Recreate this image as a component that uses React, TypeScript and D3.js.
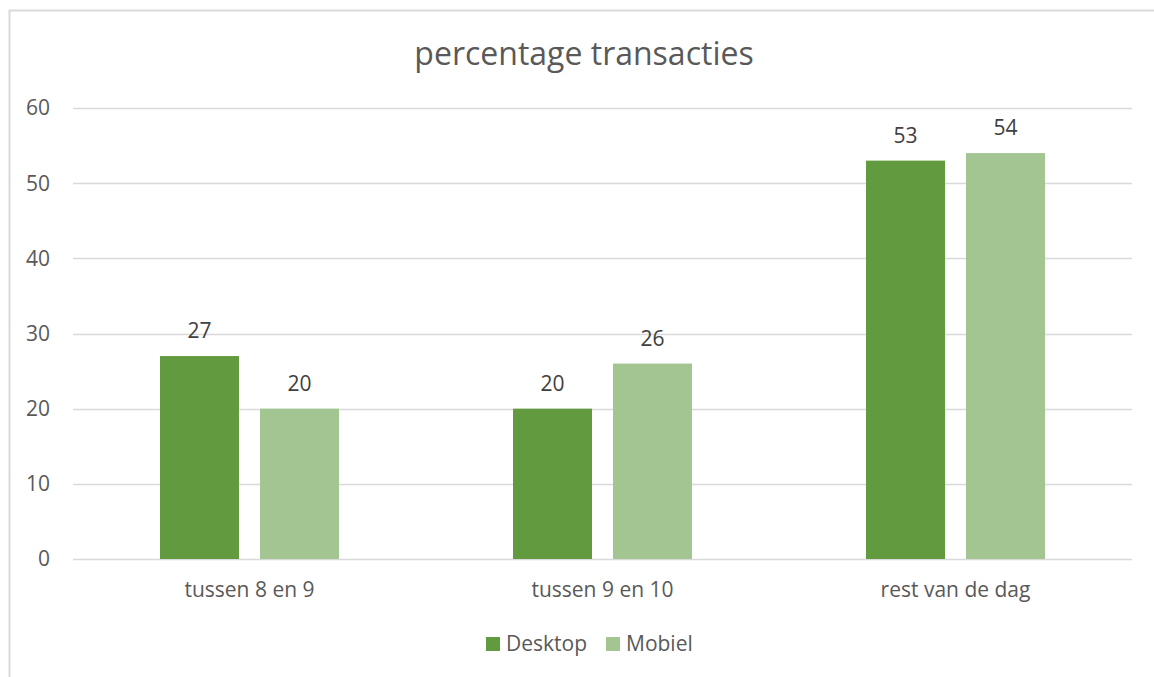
import { useEffect, useRef } from 'react';
import * as d3 from 'd3';

const categories = ['tussen 8 en 9', 'tussen 9 en 10', 'rest van de dag'];
const seriesNames = ['Desktop', 'Mobiel'];
const desktopValues = [27, 20, 53];
const mobielValues = [20, 26, 54];
const yTicks = [0, 10, 20, 30, 40, 50, 60];
const colors = ['#629b3f', '#a2c591'];

const W = 1154;
const H = 677;
const FONT = '"Open Sans", sans-serif';

export default function App() {
  const svgRef = useRef<SVGSVGElement>(null);

  useEffect(() => {
    if (!svgRef.current) return;
    const svg = d3.select(svgRef.current);
    svg.selectAll('*').remove();

    const margin = { top: 108, right: 22, bottom: 118, left: 73 };
    const innerWidth = W - margin.left - margin.right;
    const innerHeight = H - margin.top - margin.bottom;

    // chart frame (right and bottom edges fall outside the picture)
    svg.append('rect')
      .attr('x', 9.5).attr('y', 10.5)
      .attr('width', W + 10).attr('height', H + 10)
      .attr('fill', '#fff')
      .attr('stroke', '#d9d9d9')
      .attr('stroke-width', 2);

    svg.append('text')
      .attr('x', 584).attr('y', 65)
      .attr('text-anchor', 'middle')
      .style('font-family', FONT)
      .style('font-size', '32px')
      .style('fill', '#595959')
      .text('percentage transacties');

    const g = svg.append('g').attr('transform', `translate(${margin.left},${margin.top})`);

    const x0 = d3.scaleBand().domain(categories).range([0, innerWidth]).paddingInner(0).paddingOuter(0);
    const x1 = d3.scaleBand().domain(seriesNames).range([0, 179]).paddingInner(21 / 100).paddingOuter(0);
    const y = d3.scaleLinear().domain([0, 60]).range([innerHeight, 0]);

    g.append('g')
      .selectAll('line')
      .data(yTicks)
      .join('line')
      .attr('x1', 0).attr('x2', innerWidth)
      .attr('y1', d => Math.round(y(d)) + 0.5).attr('y2', d => Math.round(y(d)) + 0.5)
      .attr('stroke', '#d9d9d9')
      .attr('stroke-width', 1.5);

    g.append('g')
      .selectAll('text')
      .data(yTicks)
      .join('text')
      .attr('x', -23)
      .attr('y', d => y(d))
      .attr('dy', '0.35em')
      .attr('text-anchor', 'end')
      .style('font-family', FONT)
      .style('font-size', '21px')
      .style('fill', '#595959')
      .text(d => d);

    const rows = categories.map((c, i) => ({ c, vals: [desktopValues[i], mobielValues[i]] }));

    const groups = g.selectAll('.grp')
      .data(rows)
      .join('g')
      .attr('class', 'grp')
      .attr('transform', d => `translate(${(x0(d.c) || 0) + x0.bandwidth() / 2 - 89.5},0)`);

    groups.selectAll('rect')
      .data(d => d.vals.map((v, i) => ({ name: seriesNames[i], v, i })))
      .join('rect')
      .attr('x', d => x1(d.name) || 0)
      .attr('y', d => y(d.v))
      .attr('width', x1.bandwidth())
      .attr('height', d => innerHeight - y(d.v))
      .attr('fill', d => colors[d.i]);

    groups.selectAll('text.val')
      .data(d => d.vals.map((v, i) => ({ name: seriesNames[i], v, i })))
      .join('text')
      .attr('class', 'val')
      .attr('x', d => (x1(d.name) || 0) + x1.bandwidth() / 2)
      .attr('y', d => y(d.v) - 18)
      .attr('text-anchor', 'middle')
      .style('font-family', FONT)
      .style('font-size', '21px')
      .style('fill', '#404040')
      .text(d => d.v);

    g.append('g')
      .selectAll('text')
      .data(categories)
      .join('text')
      .attr('x', d => (x0(d) || 0) + x0.bandwidth() / 2)
      .attr('y', innerHeight + 38)
      .attr('text-anchor', 'middle')
      .style('font-family', FONT)
      .style('font-size', '21px')
      .style('fill', '#595959')
      .text(d => d);

    const legend = svg.append('g').attr('transform', 'translate(486,637)');
    const items = [
      { name: seriesNames[0], x: 0 },
      { name: seriesNames[1], x: 120 },
    ];
    items.forEach((it, i) => {
      legend.append('rect')
        .attr('x', it.x).attr('y', 0)
        .attr('width', 14).attr('height', 14)
        .attr('fill', colors[i]);
      legend.append('text')
        .attr('x', it.x + 20).attr('y', 7)
        .attr('dy', '0.35em')
        .style('font-family', FONT)
        .style('font-size', '21px')
        .style('fill', '#595959')
        .text(it.name);
    });
  }, []);

  return (
    <div style={{ position: 'absolute', left: 0, top: 0 }}>
      <svg ref={svgRef} width={W} height={H} style={{ display: 'block' }}></svg>
    </div>
  );
}
